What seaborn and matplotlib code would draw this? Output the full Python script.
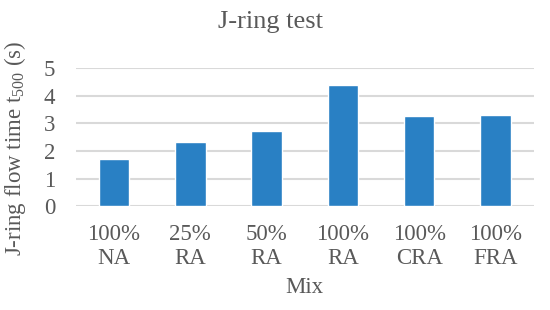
import matplotlib
matplotlib.use("Agg")
import matplotlib.pyplot as plt
import seaborn as sns
import pandas as pd

# data
mixes = ["100%\nNA", "25%\nRA", "50%\nRA", "100%\nRA", "100%\nCRA", "100%\nFRA"]
flow_time = [1.70, 2.33, 2.71, 4.38, 3.26, 3.32]
y_ticks = [0, 1, 2, 3, 4, 5]

df = pd.DataFrame({"Mix": mixes, "t500": flow_time})

sns.set_style("white")
plt.rcParams["font.family"] = ["Liberation Serif", "DejaVu Serif"]
grey = "#595959"

fig, ax = plt.subplots(figsize=(5.5, 3.1), dpi=100)
sns.barplot(data=df, x="Mix", y="t500", color="#2980c4", saturation=1,
            width=0.4, ax=ax, zorder=3)

ax.set_ylim(0, 5)
ax.set_yticks(y_ticks)
ax.grid(axis="y", color="#d9d9d9", linewidth=1.5, zorder=0)
ax.set_axisbelow(True)
for s in ax.spines.values():
    s.set_visible(False)
ax.tick_params(axis="both", length=0, labelsize=16.5, colors=grey)
ax.tick_params(axis="y", pad=15)
ax.tick_params(axis="x", pad=13)
for lbl in ax.get_xticklabels():
    lbl.set_linespacing(1.15)
ax.set_xlabel("Mix", fontsize=16.5, color=grey, labelpad=6)
ax.set_ylabel("J-ring flow time t$_{\\mathregular{500}}$ (s)", fontsize=16.5, color=grey)
ax.yaxis.set_label_coords(-0.104, 0.42)
# title sits left of the axes centre in the reference
ax.set_title("J-ring test", fontsize=19, color=grey, pad=29, x=0.425)

plt.subplots_adjust(left=0.138, right=0.97, top=0.78, bottom=0.335)
fig.savefig("out.png", dpi=100)
